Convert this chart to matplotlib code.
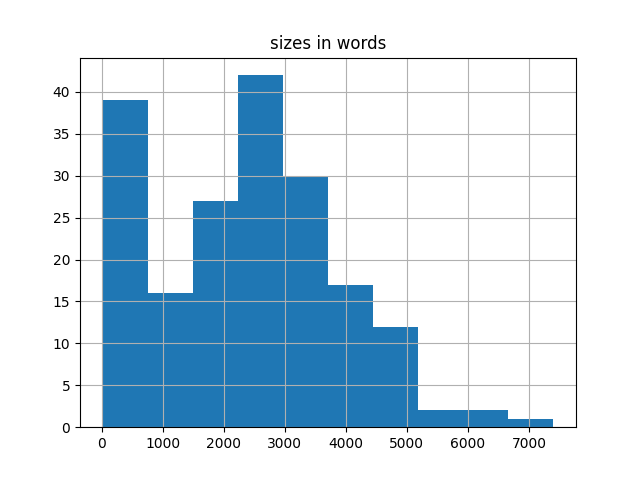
import numpy as np
import matplotlib
matplotlib.use("Agg")
import matplotlib.pyplot as plt

counts = [39, 16, 27, 42, 30, 17, 12, 2, 2, 1]
data_min = 12
data_max = 7402
title = "sizes in words"

edges = np.linspace(data_min, data_max, len(counts) + 1)
centers = (edges[:-1] + edges[1:]) / 2

fig, ax = plt.subplots(figsize=(6.4, 4.8), dpi=100)
ax.hist(centers, bins=edges, weights=counts, color="#1f77b4")
ax.grid(True)
ax.set_title(title)
fig.savefig("out.png")
